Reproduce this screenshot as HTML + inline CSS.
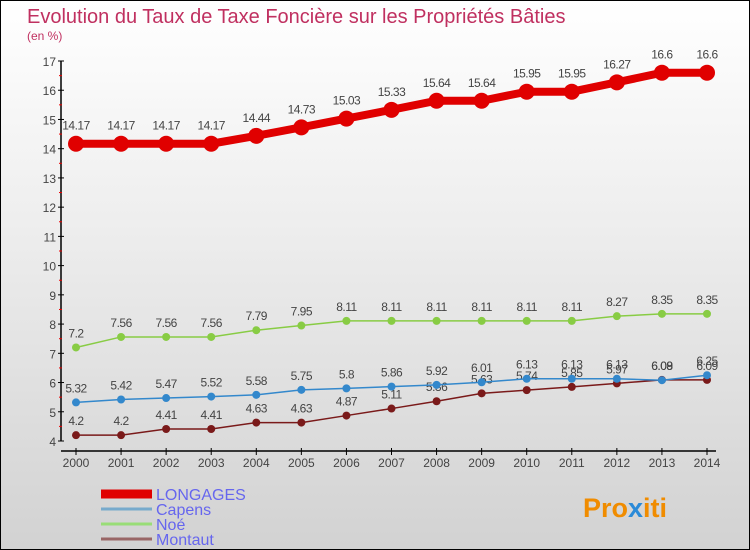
<!DOCTYPE html>
<html><head><meta charset="utf-8"><style>
body{margin:0}
#c{width:750px;height:550px;position:relative;font-family:"Liberation Sans",sans-serif;background:linear-gradient(#fff 0%,#eee 40%,#d2d2d2 100%);border:1px solid #000;box-sizing:border-box;overflow:hidden}
</style></head><body>
<div id="c">
<svg id="s" width="750" height="550" style="position:absolute;left:0;top:0">
<text x="26" y="22" font-size="20" fill="#c03060">Evolution du Taux de Taxe Foncière sur les Propriétés Bâties</text>
<text x="26" y="39" font-size="12" fill="#c03060">(en %)</text>
<g id="g"></g>
<text x="582" y="516" font-size="27" font-weight="bold" fill="#f08c00">Pro<tspan fill="#2a8ad8">x</tspan>iti</text>
</svg>
</div>
<script>
const years=[2000,2001,2002,2003,2004,2005,2006,2007,2008,2009,2010,2011,2012,2013,2014];
const yTicks=[4,5,6,7,8,9,10,11,12,13,14,15,16,17];
const longages=[14.17,14.17,14.17,14.17,14.44,14.73,15.03,15.33,15.64,15.64,15.95,15.95,16.27,16.6,16.6];
const capens=[5.32,5.42,5.47,5.52,5.58,5.75,5.8,5.86,5.92,6.01,6.13,6.13,6.13,6.08,6.25];
const noe=[7.2,7.56,7.56,7.56,7.79,7.95,8.11,8.11,8.11,8.11,8.11,8.11,8.27,8.35,8.35];
const montaut=[4.2,4.2,4.41,4.41,4.63,4.63,4.87,5.11,5.36,5.63,5.74,5.85,5.97,6.09,6.09];
const seriesNames=["LONGAGES","Capens","Noé","Montaut"];
const NS="http://www.w3.org/2000/svg";
const g=document.getElementById('g');
const X=i=>75+i*(631/14);
const Y=v=>440-(v-4)*(380/13);
function el(t,a){const e=document.createElementNS(NS,t);for(const k in a)e.setAttribute(k,a[k]);g.appendChild(e);return e;}
let e;
e=el('line',{x1:60,y1:60,x2:60,y2:440,stroke:'#000','stroke-width':1.5});

e=el('line',{x1:60,y1:450,x2:715,y2:450,stroke:'#000','stroke-width':1.5});

yTicks.forEach(v=>{
 let t=el('line',{x1:57,y1:Y(v),x2:63,y2:Y(v),stroke:'#000'});
 
 if(v<17){let m=el('line',{x1:58,y1:Y(v+0.5),x2:61,y2:Y(v+0.5),stroke:'#e00'});
 }
 let l=el('text',{x:55,y:Y(v)+5,'font-size':12,fill:'#444','text-anchor':'end'});l.textContent=v;
 
});
years.forEach((y,i)=>{
 let t=el('line',{x1:X(i),y1:447,x2:X(i),y2:454,stroke:'#000'});
 
 let l=el('text',{x:X(i),y:466,'font-size':12,fill:'#444','text-anchor':'middle'});l.textContent=y;
 
});
function series(d,color,w,r,name){
 let p=el('polyline',{points:d.map((v,i)=>X(i)+','+Y(v)).join(' '),fill:'none',stroke:color,'stroke-width':w});
 
 d.forEach((v,i)=>{
  let c=el('circle',{cx:X(i),cy:Y(v),r:r,fill:color});
  
  let t=el('text',{x:X(i),y:Y(v)-(r+6),'font-size':12,fill:'#444','text-anchor':'middle','letter-spacing':'-0.5'});t.textContent=v;
  
 });
}
series(montaut,'#7a1a1a',1.5,4,'montaut');
series(noe,'#88cc44',1.5,4,'noe');
series(capens,'#3388cc',1.5,4,'capens');
series(longages,'#e00000',8,8,'longages');
const legColors=['#e00000','#77aacc','#99dd77','#996666'];
const legW=[9,3,3,3];
seriesNames.forEach((n,i)=>{
 const y=493+i*15;
 let l=el('line',{x1:100,y1:y,x2:151,y2:y,stroke:legColors[i],'stroke-width':legW[i]});
 
 let t=el('text',{x:155,y:y+6,'font-size':16,fill:'#6666ee'});t.textContent=n;
 
});
</script>
</body></html>
